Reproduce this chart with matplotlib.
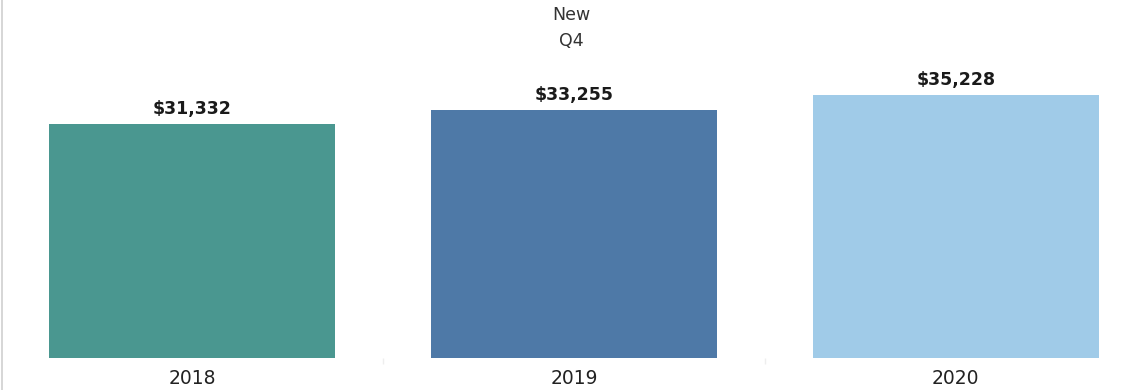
import matplotlib
matplotlib.use("Agg")
import matplotlib.pyplot as plt

years = ["2018", "2019", "2020"]
sales = [31332, 33255, 35228]
colors = ["#4a9790", "#4e79a7", "#a0cbe8"]

fig = plt.figure(figsize=(11.43, 3.9), dpi=100)
ax = fig.add_axes([0.001, 1 - 358 / 390, 0.999, 298 / 390])

x = range(len(years))
bars = ax.bar(x, sales, width=0.75, color=colors)

for b, v in zip(bars, sales):
    ax.text(b.get_x() + b.get_width() / 2, v + 800, f"${v:,}",
            ha="center", va="bottom", fontsize=12.5, fontweight="bold",
            color="#1a1a1a")

ax.set_xlim(-0.5, 2.49)
ax.set_ylim(0, 298 * 133.9)
ax.set_xticks(list(x))
ax.set_xticklabels(years, fontsize=13.5, color="#222222")
ax.tick_params(axis="x", length=0, pad=8)
ax.set_xticks([0.5, 1.5], minor=True)
ax.tick_params(axis="x", which="minor", length=4, color="#eeeeee", width=1)
ax.set_yticks([])

for side in ["top", "right", "bottom"]:
    ax.spines[side].set_visible(False)
ax.spines["left"].set_visible(False)

# thin gray rule running down the left edge
fig.add_artist(plt.Line2D([0.0015, 0.0015], [0, 1], color="#d0d0d0", lw=1.2))

fig.text(0.5, 1 - 15 / 390, "New", ha="center", va="center", fontsize=12.5, color="#333333")
fig.text(0.5, 1 - 41 / 390, "Q4", ha="center", va="center", fontsize=12.5, color="#333333")

fig.savefig("out.png", dpi=100)
